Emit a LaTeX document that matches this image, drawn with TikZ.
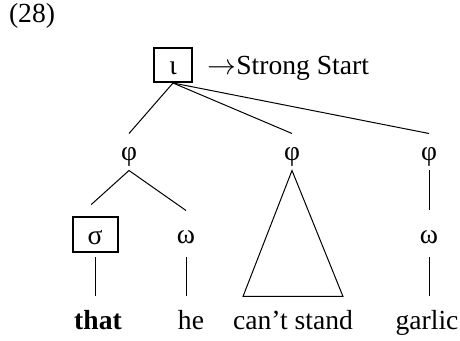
\documentclass[tikz,border=0pt]{standalone}
\usepackage{fontspec}
\setmainfont{Liberation Serif}
\usepackage{tikz}

\begin{document}
\begin{tikzpicture}[x=0.5pt,y=-0.5pt,line width=.5pt,
        every node/.style={font=\fontsize{13.8}{16}\selectfont},
        cat/.style={inner sep=0pt,text height=10pt,text depth=0pt},
        boxed/.style={cat,draw,line width=1pt},
        word/.style={anchor=base,inner sep=0pt,text height=16.5pt}]
        \useasboundingbox (0,0) rectangle (460,341);
        \node (num) at (32,16) {(28)};
        \node[boxed,minimum width=19pt,minimum height=17pt] (iota) at (173,65) {ι};
        \node[anchor=base west,inner sep=0pt] (strong) at (207,75) {$\rightarrow$Strong Start};
        % phonological phrases
        \node[cat,text height=9pt,minimum height=18pt] (phiA) at (129,152) {φ};
        \node[cat,text height=9pt,minimum height=18pt] (phiB) at (292,152) {φ};
        \node[cat,text height=9pt,minimum height=18pt] (phiC) at (429,152) {φ};
        % syllable and words
        \node[boxed,minimum width=22.5pt,minimum height=17.5pt] (sigma) at (95,235) {σ};
        \node[cat,minimum height=23pt] (omA) at (186,234) {ω};
        \node[cat,minimum height=23pt] (omC) at (429,234) {ω};
        % terminal string
        \node[word] (that) at (98,330) {\textbf{that}};
        \node[word] (he) at (191,330) {he};
        \node[word] (cant) at (293,330) {can’t stand};
        \node[word] (garlic) at (427,330) {garlic};
        \path
          (iota.south) edge (phiA.north)
          (iota.south) edge (phiB.north)
          (iota.south) edge (phiC.north)
          (phiA.south) edge[shorten >=8.9pt] ([xshift=-8.5pt]sigma.north)
          (phiA.south) edge (omA.north)
          (phiC.south) edge (omC.north)
          (sigma.south) edge[shorten <=2pt] (sigma.south |- that.north)
          (omA.south) edge (omA.south |- he.north)
          (omC.south) edge (omC.south |- garlic.north)
          ;
        \draw (phiB.south) -- ([xshift=-25pt]cant.north) -- ([xshift=25pt]cant.north) -- cycle;
      \end{tikzpicture}
\end{document}
